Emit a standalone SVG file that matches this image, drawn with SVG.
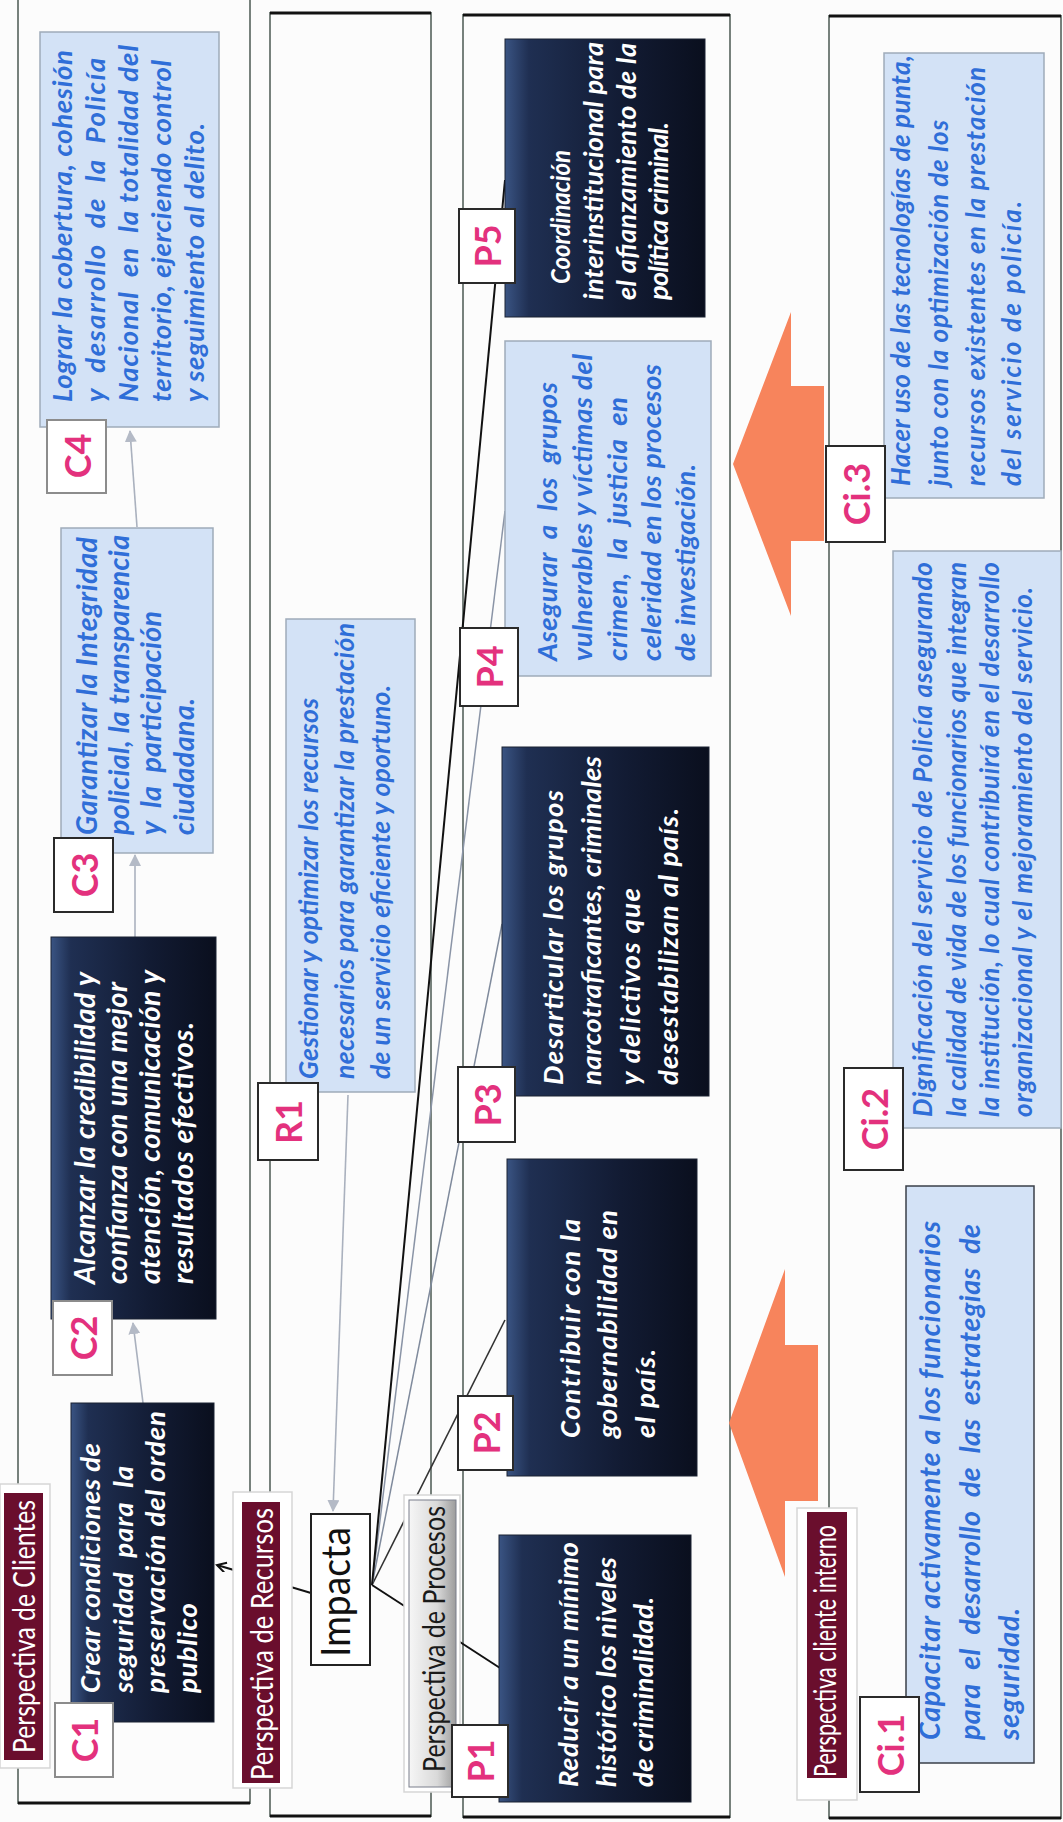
<svg xmlns="http://www.w3.org/2000/svg" width="1063" height="1822" viewBox="0 0 1063 1822">
<defs>
<style>
.band{fill:none;stroke:#77817c;stroke-width:2}
.bend{stroke:#111;stroke-width:3}
.dark{fill:url(#gDark);stroke:#1b2233;stroke-width:1}
.light{fill:#d3e2f6;stroke:#9eabb9;stroke-width:1.5}
.lbl{fill:#fff;stroke:#2a2a2a;stroke-width:2}
.lblg{fill:#fff;stroke:#8c8c8c;stroke-width:2}
.lt{font-family:Lato,"Liberation Sans",sans-serif;font-size:36px;font-weight:bold;fill:#e3317d;text-anchor:middle;dominant-baseline:central}
.wt{font-family:Lato,"Liberation Sans",sans-serif;font-weight:bold;font-style:italic;fill:#fff}
.bt{font-family:Lato,"Liberation Sans",sans-serif;font-weight:bold;font-style:italic;fill:#2f6ed8}
.title{fill:#6a0e2d}
.frame{fill:#fff;stroke:#d6d6d6;stroke-width:1.5}
.tt{font-family:Lato,"Liberation Sans",sans-serif;font-size:30px;fill:#fff}
.cg{stroke:#aab1be;stroke-width:1.6;fill:none}
.ck{stroke:#111;stroke-width:2;fill:none}
.orange{fill:#f7845c}
</style>
<linearGradient id="gDark" x1="0" y1="0" x2="0" y2="1">
<stop offset="0" stop-color="#3a5483"/>
<stop offset="0.12" stop-color="#1f2f52"/>
<stop offset="0.6" stop-color="#121b33"/>
<stop offset="1" stop-color="#0a0f1e"/>
</linearGradient>
<linearGradient id="gProc" x1="0" y1="0" x2="0" y2="1">
<stop offset="0" stop-color="#f6f6f6"/>
<stop offset="0.6" stop-color="#d9d9d9"/>
<stop offset="1" stop-color="#9c9c9c"/>
</linearGradient>
<marker id="ag" markerWidth="12" markerHeight="12" refX="11" refY="6" orient="auto" markerUnits="userSpaceOnUse">
<path d="M0,0 L12,6 L0,12 z" fill="#b4bac6"/>
</marker>
<marker id="ak" markerWidth="12" markerHeight="12" refX="10" refY="5" orient="auto" markerUnits="userSpaceOnUse">
<path d="M1,0 L10,5 L1,10" fill="none" stroke="#111" stroke-width="2"/>
</marker>
</defs>
<rect x="0" y="0" width="1063" height="1822" fill="#fcfcfc"/>
<g transform="matrix(0 -1 1 0 0 1822)">
<g id="bands">
<rect class="band" x="19" y="18" width="1830" height="232"/>
<line class="bend" x1="19" y1="18" x2="19" y2="250"/>
<rect class="band" x="6" y="270" width="1803" height="161"/>
<line class="bend" x1="6" y1="270" x2="6" y2="431"/>
<line class="bend" x1="1809" y1="270" x2="1809" y2="431"/>
<rect class="band" x="5" y="463" width="1802" height="267"/>
<line class="bend" x1="5" y1="463" x2="5" y2="730"/>
<line class="bend" x1="1807" y1="463" x2="1807" y2="730"/>
<rect class="band" x="4" y="829" width="1802" height="232"/>
<line class="bend" x1="4" y1="829" x2="4" y2="1061"/>
<line class="bend" x1="1806" y1="829" x2="1806" y2="1061"/>
</g>
<g id="arrows-big">
<path class="orange" d="M1358,733 L1510,791 L1436,791 L1436,824 L1281,824 L1281,791 L1206,791 Z"/>
<path class="orange" d="M399,729 L553,785 L477,785 L477,818 L321,818 L321,785 L245,785 Z"/>
</g>
<g id="connectors">
<line class="cg" x1="419" y1="143" x2="499" y2="133" marker-end="url(#ag)"/>
<line class="cg" x1="885" y1="135" x2="967" y2="135" marker-end="url(#ag)"/>
<line class="cg" x1="1295" y1="137" x2="1391" y2="130" marker-end="url(#ag)"/>
<line class="cg" x1="727" y1="348" x2="311" y2="333" marker-end="url(#ag)"/>
<line class="ck" x1="229" y1="311" x2="257" y2="217" stroke-width="1.6" marker-end="url(#ak)"/>
<line class="ck" x1="237" y1="372" x2="154" y2="500"/>
<line x1="237" y1="372" x2="502" y2="505" stroke="#333" stroke-width="1.6"/>
<line x1="237" y1="372" x2="898" y2="502" stroke="#7f8a9c" stroke-width="1.5"/>
<line x1="237" y1="372" x2="1311" y2="505" stroke="#8a94a6" stroke-width="1.5"/>
<line class="ck" x1="237" y1="372" x2="1642" y2="505" stroke-width="2.4"/>
</g>
<g id="titles">
<g id="t-clientes">
<rect class="frame" x="54" y="0" width="284" height="50"/>
<rect class="title" x="62" y="4" width="267" height="39"/>
<text class="tt" x="69" y="35" textLength="253" lengthAdjust="spacingAndGlyphs">Perspectiva de Clientes</text>
</g>
<g id="t-recursos">
<rect class="frame" x="34" y="233" width="296" height="59"/>
<rect class="title" x="39" y="242" width="281" height="38"/>
<text class="tt" x="42" y="273" textLength="272" lengthAdjust="spacingAndGlyphs">Perspectiva de Recursos</text>
</g>
<g id="t-procesos">
<rect class="frame" x="30" y="404" width="297" height="56"/>
<rect x="35" y="409" width="287" height="47" fill="url(#gProc)" stroke="#7a7f8c" stroke-width="1"/>
<text class="tt" x="50" y="445" style="fill:#1a1a1a" textLength="266" lengthAdjust="spacingAndGlyphs">Perspectiva de Procesos</text>
</g>
<g id="t-interno">
<rect class="frame" x="22" y="797" width="292" height="60"/>
<rect class="title" x="44" y="807" width="266" height="40"/>
<text class="tt" x="45" y="836" textLength="252" lengthAdjust="spacingAndGlyphs">Perspectiva cliente interno</text>
</g>
</g>
<g id="impacta">
<rect x="157" y="311" width="151" height="59" fill="#fff" stroke="#222" stroke-width="2"/>
<text x="165" y="350" font-family="Lato, 'Liberation Sans', sans-serif" font-size="40" fill="#111" textLength="130" lengthAdjust="spacingAndGlyphs">Impacta</text>
</g>
<g id="C1">
<rect class="dark" x="100" y="71" width="319" height="143"/>
<text class="wt" font-size="27.5" xml:space="preserve"><tspan x="129" y="100" textLength="250">Crear condiciones de</tspan><tspan x="129" y="133" textLength="227">seguridad  para  la</tspan><tspan x="129" y="165" textLength="282">preservación del orden</tspan><tspan x="129" y="197" textLength="90">publico</tspan></text>
<rect class="lblg" x="45" y="55" width="74" height="58"/>
<text class="lt" x="82" y="84">C1</text>
</g>
<g id="C2">
<rect class="dark" x="503" y="51" width="382" height="165"/>
<text class="wt" font-size="28.5"><tspan x="538" y="95" textLength="312">Alcanzar la credibilidad y</tspan><tspan x="538" y="127" textLength="302">confianza con una mejor</tspan><tspan x="538" y="160" textLength="314">atención, comunicación y</tspan><tspan x="538" y="193" textLength="262">resultados efectivos.</tspan></text>
<rect class="lblg" x="447" y="53" width="74" height="59"/>
<text class="lt" x="484" y="83">C2</text>
</g>
<g id="C3">
<rect class="light" x="969" y="61" width="325" height="152"/>
<text class="bt" font-size="28.5" xml:space="preserve"><tspan x="987" y="97" textLength="298">Garantizar la Integridad</tspan><tspan x="987" y="129" textLength="300">policial, la transparencia</tspan><tspan x="987" y="161" textLength="224">y  la  participación</tspan><tspan x="987" y="194" textLength="137">ciudadana.</tspan></text>
<rect class="lbl" x="910" y="54" width="74" height="59"/>
<text class="lt" x="947" y="84">C3</text>
</g>
<g id="C4">
<rect class="light" x="1395" y="40" width="395" height="179"/>
<text class="bt" font-size="27.5" xml:space="preserve"><tspan x="1420" y="72" textLength="352">Lograr la cobertura, cohesión</tspan><tspan x="1420" y="105" textLength="344">y  desarrollo  de  la  Policía</tspan><tspan x="1420" y="138" textLength="357">Nacional  en  la totalidad del</tspan><tspan x="1420" y="171" textLength="342">territorio, ejerciendo control</tspan><tspan x="1420" y="204" textLength="279">y seguimiento al delito.</tspan></text>
<rect class="lblg" x="1329" y="47" width="73" height="59"/>
<text class="lt" x="1366" y="77">C4</text>
</g>
<g id="R1">
<rect class="light" x="730" y="286" width="473" height="129"/>
<text class="bt" font-size="26.5"><tspan x="743" y="318" textLength="381">Gestionar y optimizar los recursos</tspan><tspan x="743" y="354" textLength="456">necesarios para garantizar la prestación</tspan><tspan x="743" y="390" textLength="394">de un servicio eficiente y oportuno.</tspan></text>
<rect class="lbl" x="662" y="258" width="77" height="60"/>
<text class="lt" x="700" y="288">R1</text>
</g>
<g id="P1">
<rect class="dark" x="20" y="499" width="267" height="192"/>
<text class="wt" font-size="27.5"><tspan x="35" y="578" textLength="245">Reducir a un mínimo</tspan><tspan x="35" y="616" textLength="230">histórico los niveles</tspan><tspan x="35" y="653" textLength="190">de criminalidad.</tspan></text>
<rect class="lbl" x="25" y="452" width="72" height="56"/>
<text class="lt" x="61" y="480">P1</text>
</g>
<g id="P2">
<rect class="dark" x="346" y="507" width="317" height="190"/>
<text class="wt" font-size="27.5"><tspan x="384" y="580" textLength="219">Contribuir con la</tspan><tspan x="384" y="617" textLength="228">gobernabilidad en</tspan><tspan x="384" y="655" textLength="89">el país.</tspan></text>
<rect class="lbl" x="352" y="458" width="74" height="55"/>
<text class="lt" x="389" y="486">P2</text>
</g>
<g id="P3">
<rect class="dark" x="726" y="502" width="349" height="207"/>
<text class="wt" font-size="27.5"><tspan x="737" y="563" textLength="295">Desarticular los grupos</tspan><tspan x="737" y="601" textLength="329">narcotraficantes, criminales</tspan><tspan x="737" y="640" textLength="197">y delictivos que</tspan><tspan x="737" y="678" textLength="277">desestabilizan al país.</tspan></text>
<rect class="lbl" x="680" y="458" width="75" height="57"/>
<text class="lt" x="717" y="487">P3</text>
</g>
<g id="P4">
<rect class="light" x="1146" y="505" width="335" height="206"/>
<text class="bt" font-size="27.5" xml:space="preserve"><tspan x="1161" y="557" textLength="279">Asegurar  a  los  grupos</tspan><tspan x="1161" y="592" textLength="307">vulnerables y víctimas del</tspan><tspan x="1161" y="627" textLength="264">crimen,  la  justicia  en</tspan><tspan x="1161" y="661" textLength="297">celeridad en los procesos</tspan><tspan x="1161" y="695" textLength="197">de investigación.</tspan></text>
<rect class="lbl" x="1116" y="460" width="78" height="58"/>
<text class="lt" x="1155" y="489">P4</text>
</g>
<g id="P5">
<rect class="dark" x="1505" y="505" width="278" height="200"/>
<text class="wt" font-size="27"><tspan x="1538" y="570" textLength="134" lengthAdjust="spacingAndGlyphs">Coordinación</tspan><tspan x="1522" y="603" textLength="258">interinstitucional para</tspan><tspan x="1522" y="636" textLength="257">el afianzamiento de la</tspan><tspan x="1522" y="668" textLength="178">política criminal.</tspan></text>
<rect class="lbl" x="1539" y="459" width="74" height="56"/>
<text class="lt" x="1576" y="487">P5</text>
</g>
<g id="Ci1">
<rect class="light" x="59" y="906" width="577" height="128" style="stroke:#3a3f48"/>
<text class="bt" font-size="28.5" xml:space="preserve"><tspan x="82" y="940" textLength="519">Capacitar activamente a los funcionarios</tspan><tspan x="82" y="980" textLength="516">para  el  desarrollo  de  las  estrategias  de</tspan><tspan x="82" y="1019" textLength="132">seguridad.</tspan></text>
<rect class="lbl" x="30" y="860" width="95" height="59"/>
<text class="lt" x="77" y="890">Ci.1</text>
</g>
<g id="Ci2">
<rect class="light" x="694" y="893" width="577" height="168"/>
<text class="bt" font-size="26"><tspan x="705" y="932" textLength="555">Dignificación del servicio de Policía asegurando</tspan><tspan x="705" y="966" textLength="555">la calidad de vida de los funcionarios que integran</tspan><tspan x="705" y="999" textLength="555">la institución, lo cual contribuirá en el desarrollo</tspan><tspan x="705" y="1032" textLength="530">organizacional y el mejoramiento del servicio.</tspan></text>
<rect class="lbl" x="652" y="844" width="102" height="59"/>
<text class="lt" x="703" y="874">Ci.2</text>
</g>
<g id="Ci3">
<rect class="light" x="1324" y="884" width="445" height="160"/>
<text class="bt" font-size="26"><tspan x="1336" y="910" textLength="431">Hacer uso de las tecnologías de punta,</tspan><tspan x="1336" y="948" textLength="366">junto con la optimización de los</tspan><tspan x="1336" y="985" textLength="419">recursos existentes en la prestación</tspan><tspan x="1336" y="1021" textLength="285">del servicio de policía.</tspan></text>
<rect class="lbl" x="1280" y="826" width="96" height="59"/>
<text class="lt" x="1328" y="856">Ci.3</text>
</g>
</g>
</svg>
